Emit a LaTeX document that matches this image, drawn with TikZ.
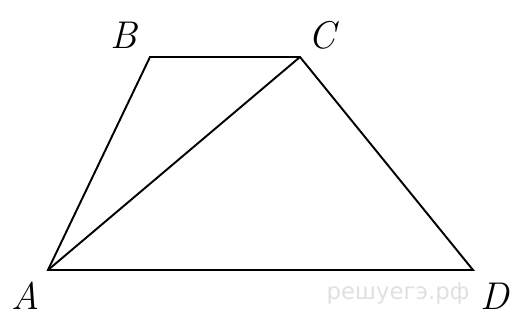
\documentclass[tikz,border=0pt]{standalone}
\usepackage{fontspec}
\newfontfamily\wmfont{DejaVu Sans}
\usepackage{tikz}
\usetikzlibrary{positioning}

\begin{document}
\begin{tikzpicture}[
  x=0.02cm, y=-0.02cm,
  side/.style={line width=1.1pt, line join=miter},
  lbl/.style={font=\fontsize{22}{26}\selectfont\itshape, inner sep=0pt},
  wm/.style={font=\wmfont\fontsize{13}{15}\selectfont, text=black!12, inner sep=0pt}
]
\useasboundingbox (0,0) rectangle (514,324);
\coordinate (A) at (48,270);
\coordinate (B) at (150,57);
\coordinate (C) at (300,57);
\coordinate (D) at (473,270);
\draw[side] (A) -- (B) -- (C) -- (D) -- cycle;
\draw[side] (A) -- (C);
\node[lbl] (lA) at (26,296) {A};
\node[lbl] (lB) at (124,35) {B};
\node[lbl] (lC) at (322,35) {C};
\node[lbl] (lD) at (495,296) {D};
\node[wm] (site) at (398,294) {решуегэ.рф};
\end{tikzpicture}
\end{document}
